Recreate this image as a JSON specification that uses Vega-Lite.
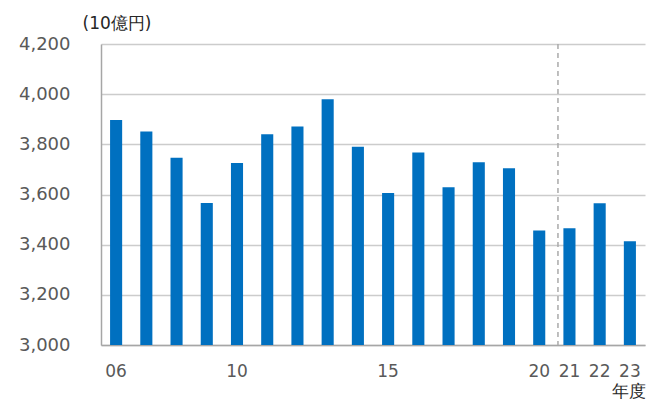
{
  "$schema": "https://vega.github.io/schema/vega-lite/v6.json",
  "autosize": {"type": "none"},
  "width": 544,
  "height": 301,
  "padding": {"left": 101, "top": 44, "right": 2, "bottom": 54},
  "background": "white",
  "config": {
    "view": {"stroke": null},
    "font": "DejaVu Sans",
    "axis": {"labelFont": "DejaVu Sans", "titleFont": "DejaVu Sans"}
  },
  "data": {
    "values": [
      {"year": "06", "value": 3897},
      {"year": "07", "value": 3851},
      {"year": "08", "value": 3747},
      {"year": "09", "value": 3566},
      {"year": "10", "value": 3726},
      {"year": "11", "value": 3840},
      {"year": "12", "value": 3871},
      {"year": "13", "value": 3980},
      {"year": "14", "value": 3790},
      {"year": "15", "value": 3606},
      {"year": "16", "value": 3767},
      {"year": "17", "value": 3629},
      {"year": "18", "value": 3729},
      {"year": "19", "value": 3705},
      {"year": "20", "value": 3456},
      {"year": "21", "value": 3465},
      {"year": "22", "value": 3565},
      {"year": "23", "value": 3414}
    ]
  },
  "layer": [
    {
      "mark": {"type": "bar", "color": "#0070C0", "clip": true},
      "encoding": {
        "x": {
          "field": "year",
          "type": "ordinal",
          "sort": null,
          "scale": {"paddingInner": 0.6, "paddingOuter": 0.3},
          "axis": {
            "title": "年度",
            "titleAngle": 0,
            "titleAlign": "left",
            "titleBaseline": "middle",
            "titleX": 510,
            "titleY": 46,
            "titleFontSize": 17,
            "titleFontWeight": "normal",
            "titleColor": "#262626",
            "labelAngle": 0,
            "labelFontSize": 17,
            "labelColor": "#595959",
            "labelPadding": 18,
            "labelExpr": "indexof(['06','10','15','20','21','22','23'], datum.value) >= 0 ? datum.value : ''",
            "ticks": false,
            "domainColor": "#a6a6a6",
            "domainWidth": 1.5,
            "grid": false
          }
        },
        "y": {
          "field": "value",
          "type": "quantitative",
          "scale": {"domain": [3000, 4200], "nice": false, "zero": false},
          "axis": {
            "values": [3000, 3200, 3400, 3600, 3800, 4000, 4200],
            "format": ",d",
            "title": "(10億円)",
            "titleAngle": 0,
            "titleAlign": "left",
            "titleBaseline": "middle",
            "titleX": -19,
            "titleY": -21,
            "titleFontSize": 17,
            "titleFontWeight": "normal",
            "titleColor": "#262626",
            "labelFontSize": 18,
            "labelColor": "#595959",
            "labelPadding": 31,
            "ticks": false,
            "domainColor": "#a6a6a6",
            "domainWidth": 1.5,
            "gridColor": "#cccccc",
            "gridWidth": 1.5
          }
        }
      }
    },
    {
      "data": {"values": [{"year": "20"}]},
      "mark": {"type": "rule", "color": "#aaaaaa", "strokeDash": [5, 4], "strokeWidth": 1.5},
      "encoding": {
        "x": {"field": "year", "type": "ordinal", "bandPosition": 2.05}
      }
    }
  ]
}
